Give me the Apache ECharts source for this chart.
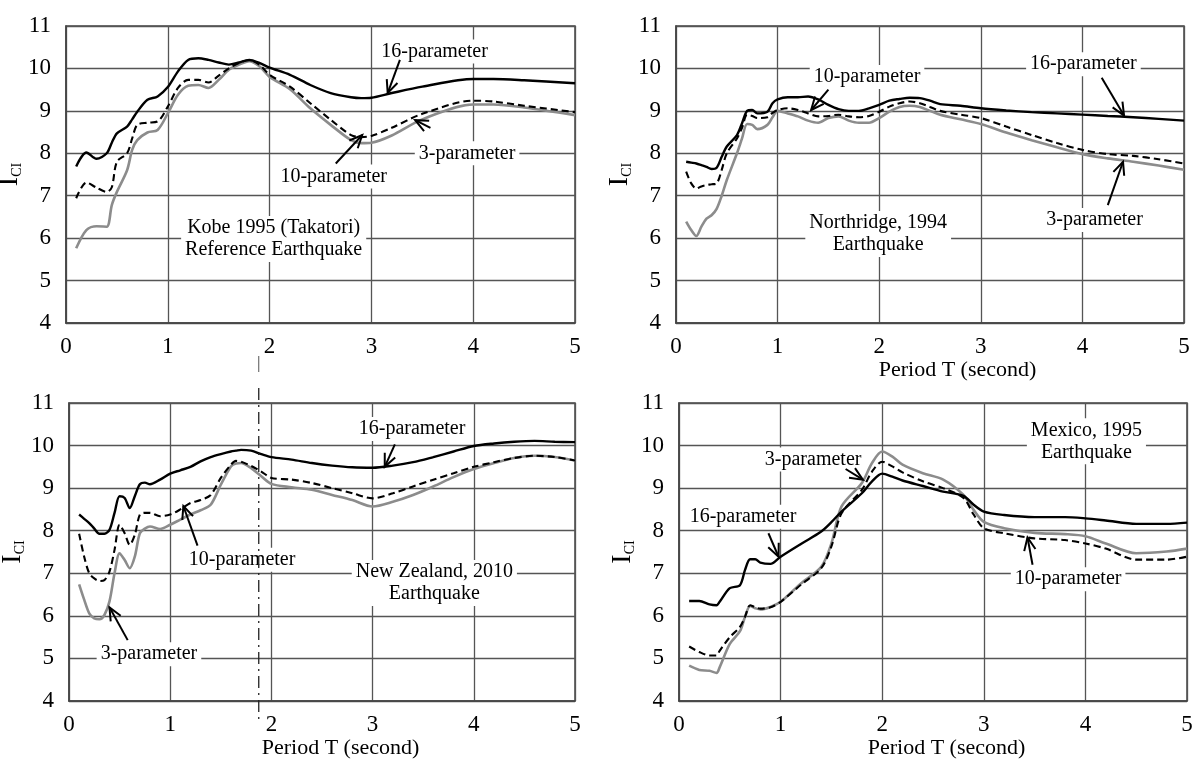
<!DOCTYPE html>
<html><head><meta charset="utf-8">
<script src="https://cdn.jsdelivr.net/npm/echarts@6/dist/echarts.min.js"></script>
<style>html,body{margin:0;padding:0;background:#fff}#c{width:1200px;height:767px}</style>
</head><body><div id="c"></div>
<script>
// ---------------- DATA ----------------
const xTicks = [0, 1, 2, 3, 4, 5];
const yTicks = [4, 5, 6, 7, 8, 9, 10, 11];

// Panel 1: Kobe 1995 (Takatori)
const kobeT = [0.1,0.2,0.3,0.4,0.45,0.5,0.6,0.65,0.7,0.8,0.9,1.0,1.1,1.2,1.3,1.4,1.5,1.6,1.7,1.8,1.9,2.0,2.2,2.4,2.6,2.8,2.9,3.0,3.2,3.5,4.0,4.2,4.5,5.0];
const kobe16 = [7.69,8.02,7.87,8.0,8.25,8.47,8.63,8.8,8.98,9.26,9.34,9.56,9.93,10.2,10.24,10.2,10.14,10.09,10.14,10.2,10.13,10.02,9.85,9.61,9.42,9.32,9.3,9.31,9.42,9.57,9.75,9.75,9.72,9.65];
const kobe10 = [6.94,7.31,7.19,7.09,7.2,7.8,8.0,8.35,8.67,8.72,8.75,9.1,9.54,9.73,9.73,9.67,9.83,10.0,10.13,10.2,10.09,9.85,9.57,9.18,8.79,8.43,8.38,8.41,8.6,8.93,9.24,9.22,9.12,8.97];
const kobe3  = [5.76,6.19,6.28,6.27,6.78,7.09,7.6,8.08,8.31,8.49,8.55,8.94,9.38,9.59,9.61,9.54,9.73,9.97,10.09,10.17,10.05,9.8,9.51,9.06,8.67,8.31,8.24,8.25,8.42,8.8,9.15,9.15,9.08,8.9];

// Panel 2: Northridge 1994
const norT = [0.1,0.15,0.2,0.25,0.3,0.35,0.4,0.45,0.5,0.6,0.65,0.7,0.75,0.8,0.9,0.95,1.0,1.1,1.2,1.3,1.4,1.5,1.6,1.7,1.8,1.9,2.0,2.1,2.2,2.3,2.4,2.5,2.6,2.8,3.0,3.25,3.5,3.75,4.0,4.25,4.5,4.75,5.0];
const nor16 = [7.8,7.78,7.76,7.72,7.68,7.63,7.66,7.92,8.16,8.43,8.71,9.0,9.02,8.94,8.98,9.18,9.27,9.32,9.32,9.34,9.27,9.14,9.04,9.0,9.0,9.06,9.14,9.24,9.28,9.31,9.3,9.24,9.16,9.12,9.06,9.01,8.97,8.94,8.91,8.88,8.85,8.81,8.77];
const nor10 = [7.57,7.29,7.17,7.22,7.25,7.27,7.29,7.61,8.0,8.35,8.6,8.91,8.88,8.83,8.85,8.95,9.02,9.06,9.02,8.94,8.87,8.88,8.91,8.87,8.85,8.88,8.98,9.1,9.18,9.22,9.18,9.09,9.0,8.91,8.83,8.63,8.43,8.24,8.08,7.98,7.94,7.86,7.76];
const nor3  = [6.39,6.19,6.05,6.27,6.46,6.54,6.69,7.0,7.37,8.0,8.35,8.69,8.67,8.57,8.67,8.85,9.0,8.94,8.87,8.77,8.72,8.83,8.87,8.77,8.72,8.72,8.83,8.98,9.09,9.12,9.09,9.0,8.91,8.8,8.69,8.49,8.31,8.14,7.98,7.88,7.8,7.71,7.61];

// Panel 3: New Zealand 2010
const nzT = [0.1,0.15,0.2,0.25,0.3,0.35,0.4,0.45,0.5,0.55,0.6,0.65,0.7,0.75,0.8,0.9,1.0,1.1,1.2,1.3,1.4,1.5,1.6,1.65,1.7,1.8,1.9,2.0,2.2,2.4,2.6,2.8,3.0,3.2,3.4,3.6,3.8,4.0,4.2,4.4,4.6,4.8,5.0];
const nz16 = [8.38,8.28,8.18,8.05,7.93,7.93,8.02,8.42,8.81,8.77,8.53,8.81,9.09,9.13,9.09,9.2,9.34,9.42,9.5,9.63,9.73,9.8,9.86,9.88,9.9,9.88,9.8,9.73,9.67,9.59,9.53,9.49,9.48,9.53,9.61,9.73,9.86,9.99,10.05,10.09,10.11,10.09,10.08];
const nz10 = [7.93,7.39,7.0,6.88,6.82,6.84,7.04,7.55,8.14,7.94,7.67,7.9,8.38,8.42,8.42,8.34,8.38,8.5,8.65,8.72,8.84,9.24,9.55,9.64,9.62,9.52,9.39,9.24,9.2,9.12,9.0,8.88,8.76,8.88,9.04,9.2,9.35,9.5,9.61,9.71,9.76,9.73,9.65];
const nz3  = [6.74,6.38,6.06,5.94,5.92,6.02,6.34,7.0,7.47,7.31,7.12,7.39,7.94,8.05,8.1,8.04,8.14,8.26,8.38,8.48,8.61,9.08,9.51,9.58,9.59,9.47,9.28,9.1,9.02,8.96,8.84,8.72,8.57,8.68,8.84,9.04,9.26,9.45,9.59,9.71,9.76,9.73,9.65];

// Panel 4: Mexico 1995
const mexT = [0.1,0.2,0.3,0.37,0.4,0.5,0.6,0.65,0.7,0.75,0.8,0.9,1.0,1.2,1.4,1.5,1.6,1.8,1.9,2.0,2.1,2.2,2.4,2.6,2.8,2.9,3.0,3.2,3.5,3.8,4.0,4.2,4.5,4.8,5.0];
const mex16 = [6.35,6.35,6.27,6.25,6.33,6.65,6.72,7.08,7.33,7.33,7.25,7.22,7.39,7.69,7.98,8.2,8.45,8.88,9.16,9.34,9.27,9.18,9.05,8.92,8.82,8.61,8.45,8.37,8.32,8.32,8.29,8.24,8.16,8.16,8.19];
const mex10 = [5.28,5.15,5.07,5.07,5.18,5.5,5.74,5.98,6.25,6.2,6.17,6.2,6.33,6.73,7.12,7.63,8.41,8.96,9.39,9.62,9.51,9.37,9.16,9.0,8.77,8.38,8.06,7.94,7.82,7.78,7.7,7.58,7.32,7.32,7.39];
const mex3  = [4.83,4.73,4.71,4.66,4.79,5.34,5.64,5.98,6.23,6.18,6.15,6.21,6.33,6.76,7.15,7.7,8.57,9.12,9.59,9.86,9.74,9.55,9.35,9.2,8.84,8.49,8.21,8.06,7.95,7.92,7.87,7.7,7.47,7.51,7.58];

// Annotation texts (data coords: [x, y])
const panelTitles = ["Kobe 1995 (Takatori)\nReference Earthquake", "Northridge, 1994\nEarthquake", "New Zealand, 2010\nEarthquake", "Mexico, 1995\nEarthquake"];
const titlePos = [[2.04, 5.98], [1.99, 6.1], [3.61, 6.77], [4.01, 10.1]];
const labels16 = ["16-parameter", "16-parameter", "16-parameter", "16-parameter"];
const labels10 = ["10-parameter", "10-parameter", "10-parameter", "10-parameter"];
const labels3  = ["3-parameter", "3-parameter", "3-parameter", "3-parameter"];
const pos16 = [[3.62, 10.4], [4.01, 10.1], [3.39, 10.39], [0.63, 8.33]];
const pos10 = [[2.63, 7.45], [1.88, 9.8], [1.71, 7.32], [3.83, 6.86]];
const pos3  = [[3.94, 8.0], [4.12, 6.43], [0.79, 5.1], [1.32, 9.67]];
// arrows: [fromX, fromY, toX, toY]
const arrow16 = [[3.28, 10.2, 3.16, 9.42], [4.19, 9.78, 4.41, 8.89], [3.22, 10.03, 3.12, 9.5], [0.88, 7.94, 0.98, 7.39]];
const arrow10 = [[2.65, 7.76, 2.91, 8.43], [1.5, 9.5, 1.33, 9.02], [1.27, 7.65, 1.13, 8.58], [3.48, 7.2, 3.43, 7.84]];
const arrow3  = [[3.58, 8.6, 3.43, 8.78], [4.25, 6.78, 4.4, 7.8], [0.58, 5.43, 0.4, 6.2], [1.64, 9.45, 1.81, 9.2]];
const markerT = 1.875; // dash-dot vertical mark in panel 3

// ---------------- CHART ----------------
const FONT = '"Liberation Serif", "Times New Roman", serif';
const chart = echarts.init(document.getElementById('c'), null, {renderer: 'canvas'});

const grids = [
  {left: 66, top: 26, width: 509, height: 297},
  {left: 676, top: 26, width: 508, height: 297},
  {left: 69, top: 403, width: 506, height: 298},
  {left: 679, top: 403, width: 508, height: 298}
];
const titleShift = [0, 55, 37, 27];
const panels = [
  {T: kobeT, s16: kobe16, s10: kobe10, s3: kobe3},
  {T: norT, s16: nor16, s10: nor10, s3: nor3},
  {T: nzT, s16: nz16, s10: nz10, s3: nz3},
  {T: mexT, s16: mex16, s10: mex10, s3: mex3}
];
const GRIDC = '#555';

const xAxes = [], yAxes = [], series = [];
grids.forEach((g, i) => {
  g.show = true; g.borderColor = '#444'; g.borderWidth = 1.5; g.backgroundColor = 'transparent';
  g.containLabel = false; g.outerBoundsMode = 'none';
  xAxes.push({
    gridIndex: i, type: 'value', min: xTicks[0], max: xTicks[xTicks.length - 1], interval: 1,
    name: i === 0 ? '' : 'Period T (second)', nameLocation: 'middle', nameGap: 34,
    nameTextStyle: {fontFamily: FONT, fontSize: 22, color: '#000', padding: [0, 0, 0, titleShift[i]]},
    axisLine: {show: true, lineStyle: {color: '#444', width: 1.5}},
    axisTick: {show: false},
    axisLabel: {fontFamily: FONT, fontSize: 23, color: '#000', margin: 12},
    splitLine: {show: true, lineStyle: {color: GRIDC, width: 1.3}}
  });
  yAxes.push({
    gridIndex: i, type: 'value', min: yTicks[0], max: yTicks[yTicks.length - 1], interval: 1,
    name: '{a|I}{b|CI}', nameLocation: 'middle', nameGap: 37, nameRotate: 90,
    nameTextStyle: {rich: {
      a: {fontFamily: FONT, fontSize: 28, color: '#000'},
      b: {fontFamily: FONT, fontSize: 14, color: '#000', verticalAlign: 'bottom', padding: [10, 0, 0, 0]}
    }},
    axisLine: {show: true, lineStyle: {color: '#444', width: 1.5}},
    axisTick: {show: false},
    axisLabel: {fontFamily: FONT, fontSize: 23, color: '#000', margin: 15},
    splitLine: {show: true, lineStyle: {color: GRIDC, width: 1.3}}
  });
  const p = panels[i];
  const mk = (vals) => p.T.map((t, k) => [t, vals[k]]);
  series.push({type: 'line', name: '3-parameter', xAxisIndex: i, yAxisIndex: i, data: mk(p.s3),
    showSymbol: false, smooth: 0.3, lineStyle: {color: '#8c8c8c', width: 2.6}, z: 3});
  series.push({type: 'line', name: '10-parameter', xAxisIndex: i, yAxisIndex: i, data: mk(p.s10),
    showSymbol: false, smooth: 0.3, lineStyle: {color: '#000', width: 2.1, type: [7, 4]}, z: 4});
  series.push({type: 'line', name: '16-parameter', xAxisIndex: i, yAxisIndex: i, data: mk(p.s16),
    showSymbol: false, smooth: 0.3, lineStyle: {color: '#000', width: 2.4}, z: 5});
});

chart.setOption({
  animation: false,
  backgroundColor: '#fff',
  grid: grids, xAxis: xAxes, yAxis: yAxes, series: series
});

// ---------------- ANNOTATIONS ----------------
function px(i, pt) { return chart.convertToPixel({gridIndex: i}, pt); }
const graphics = [];
function addText(i, text, pos) {
  const p = px(i, pos);
  graphics.push({type: 'text', x: p[0], y: p[1], z: 1, zlevel: 0,
    style: {text: text, font: '20px ' + FONT, fill: '#000', align: 'center', verticalAlign: 'middle',
      lineHeight: 22, backgroundColor: '#fff', padding: [1, 4]}});
}
function addArrow(i, a) {
  const p0 = px(i, [a[0], a[1]]), p1 = px(i, [a[2], a[3]]);
  graphics.push({type: 'line', z: 10, shape: {x1: p0[0], y1: p0[1], x2: p1[0], y2: p1[1]},
    style: {stroke: '#000', lineWidth: 2}});
  const ang = Math.atan2(p0[1] - p1[1], p0[0] - p1[0]);
  const L = 14, w = 0.42;
  const h1 = [p1[0] + L * Math.cos(ang + w), p1[1] + L * Math.sin(ang + w)];
  const h2 = [p1[0] + L * Math.cos(ang - w), p1[1] + L * Math.sin(ang - w)];
  graphics.push({type: 'polyline', z: 10, shape: {points: [h1, p1, h2]},
    style: {stroke: '#000', lineWidth: 2, fill: null}});
}
for (let i = 0; i < 4; i++) {
  addText(i, panelTitles[i], titlePos[i]);
  addText(i, labels16[i], pos16[i]);
  addText(i, labels10[i], pos10[i]);
  addText(i, labels3[i], pos3[i]);
  addArrow(i, arrow16[i]);
  addArrow(i, arrow10[i]);
  addArrow(i, arrow3[i]);
}
// dash-dot vertical mark in panel 3 (extends beyond the plot)
const mx = px(2, [markerT, 11])[0];
graphics.push({type: 'line', z: 6, shape: {x1: mx, y1: 388, x2: mx, y2: 720},
  style: {stroke: '#222', lineWidth: 1.3, lineDash: [12, 5, 2, 5]}});
graphics.push({type: 'line', z: 6, shape: {x1: mx, y1: 356, x2: mx, y2: 372},
  style: {stroke: '#555', lineWidth: 1}});
chart.setOption({graphic: graphics});
</script>
</body></html>
